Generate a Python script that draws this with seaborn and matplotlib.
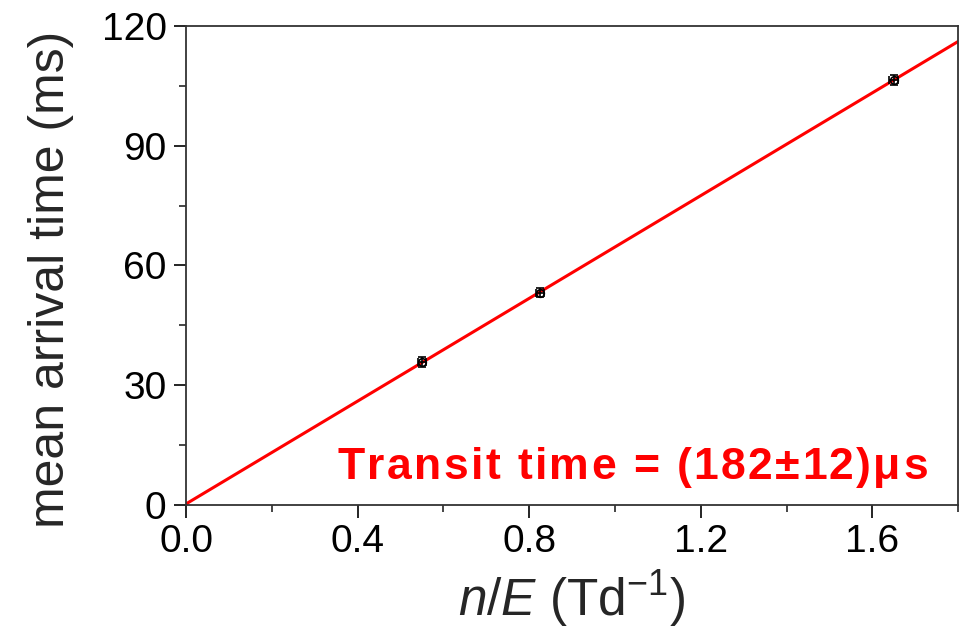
import numpy as np
import pandas as pd
import matplotlib
matplotlib.use("Agg")
import matplotlib.pyplot as plt
import seaborn as sns
from matplotlib.ticker import MultipleLocator
from matplotlib.font_manager import FontProperties, findfont, get_font
from matplotlib.transforms import offset_copy

# measured mean arrival times
n_over_e = [0.55, 0.825, 1.65]          # Td^-1
arrival_ms = [35.8, 53.2, 106.5]        # ms
arrival_err = [1.2, 1.2, 1.2]
n_over_e_err = [0.01, 0.01, 0.01]

x_limits = [0.0, 1.8]
y_limits = [0, 120]
x_ticks = [0.0, 0.4, 0.8, 1.2, 1.6]
y_ticks = [0, 30, 60, 90, 120]
annotation = "Transit time = (182\u00b112)\u03bcs"

sns.set_theme(style="ticks")
plt.rcParams["font.family"] = ["Liberation Sans", "DejaVu Sans"]
plt.rcParams["mathtext.fontset"] = "custom"
plt.rcParams["mathtext.rm"] = "Liberation Sans"
plt.rcParams["mathtext.it"] = "Liberation Sans:italic"

DPI = 100
fig = plt.figure(figsize=(9.61, 6.33), dpi=DPI)
ax = fig.add_axes([0.1936, 0.2022, 0.8034, 0.7568])

# linear fit through the measurements
slope, intercept = np.polyfit(n_over_e, arrival_ms, 1)
fit = pd.DataFrame({"x": x_limits})
fit["y"] = intercept + slope * fit["x"]
sns.lineplot(data=fit, x="x", y="y", ax=ax, color="red", lw=2.2, zorder=2)

ax.errorbar(n_over_e, arrival_ms, yerr=arrival_err, xerr=n_over_e_err,
            fmt="o", ms=5.5, mfc="none", mec="black", mew=1.2,
            ecolor="black", elinewidth=1.2, capsize=3, zorder=3)

ax.set_xlim(*x_limits)
ax.set_ylim(*y_limits)
ax.set_xticks(x_ticks)
ax.set_yticks(y_ticks)
ax.set_xticklabels([f"{v:.1f}" for v in x_ticks])
ax.set_yticklabels([str(v) for v in y_ticks])
ax.xaxis.set_minor_locator(MultipleLocator(0.2))
ax.yaxis.set_minor_locator(MultipleLocator(15))
ax.tick_params(which="major", direction="out", length=9, width=1.2,
               labelsize=28, colors="black", pad=5)
ax.tick_params(which="minor", direction="out", length=5, width=1.2)

for side in ["left", "right", "top", "bottom"]:
    ax.spines[side].set_visible(True)
    ax.spines[side].set_color("#333333")
    ax.spines[side].set_linewidth(1.3)

ax.set_xlabel(r"$n/E$ (Td$^{-1}$)", fontsize=37)
ax.xaxis.set_label_coords(0.499, -0.132)
ax.set_ylabel("mean arrival time (ms)", fontsize=36)
ax.yaxis.set_label_coords(-0.145, 0.47)

# letter-spaced red annotation, placed glyph by glyph
prop = FontProperties(family="Liberation Sans", weight="bold", size=32)
ft = get_font(findfont(prop))
ft.set_size(prop.get_size_in_points(), DPI)
tracking_px = 2.4
x_px = 0.0
for ch in annotation:
    tr = offset_copy(ax.transAxes, fig=fig, x=x_px, y=0, units="dots")
    ax.text(0.196, 0.055, ch, transform=tr, ha="left", va="baseline",
            color="red", fontproperties=prop)
    glyph = ft.load_char(ord(ch))
    x_px += glyph.linearHoriAdvance / 65536.0 + tracking_px

fig.savefig("out.png", dpi=DPI)
